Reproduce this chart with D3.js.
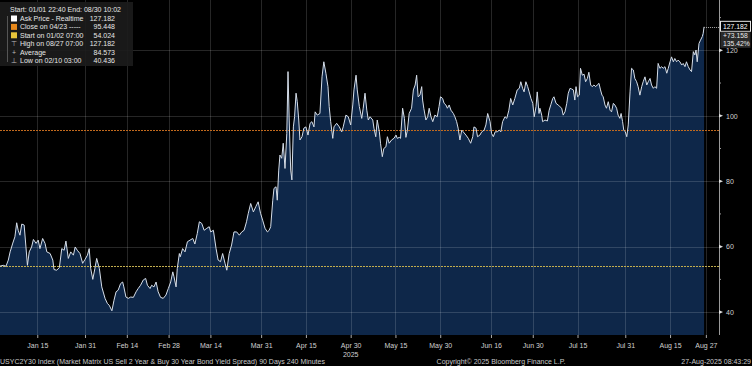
<!DOCTYPE html>
<html>
<head>
<meta charset="utf-8">
<script src="https://cdn.jsdelivr.net/npm/d3@7"></script>
<style>
  html, body { margin: 0; padding: 0; background: #000; }
  svg { display: block; font-family: "Liberation Sans", Arial, sans-serif; }
</style>
</head>
<body>
<svg id="chart" width="752" height="366"></svg>
<script>
// ---------- Data (day offset from Jan 1 2025, spread value) ----------
const days = [
  1.3, 2.6, 3.5, 4.3, 4.9, 5.8, 6.5, 7.1, 7.6, 8.2, 8.8, 9.6, 10.2, 10.7, 11.3, 12.1, 12.7, 13.6, 14.3, 14.9,
  15.8, 16.6, 17.2, 18.3, 19.2, 19.6, 20.5, 21.4, 22.2, 23.0, 23.6, 24.4, 25.2, 26.1, 26.7, 27.4, 28.3, 29.2, 30.0, 30.8,
  31.4, 31.9, 32.6, 33.3, 33.9, 34.8, 35.6, 36.7, 37.5, 38.1, 39.0, 39.7, 40.4, 41.1, 41.9, 42.6, 43.0, 43.7, 44.5, 45.3,
  46.2, 47.1, 47.8, 48.6, 49.5, 50.3, 50.9, 51.8, 52.3, 53.1, 53.8, 54.5, 55.3, 56.2, 57.1, 57.9, 58.7, 59.4, 59.8, 60.5,
  60.9, 61.6, 61.9, 62.7, 63.5, 64.3, 65.2, 66.1, 66.8, 67.6, 68.3, 69.1, 69.9, 70.8, 71.6, 72.1, 73.0, 73.9, 74.6, 75.4,
  76.1, 76.9, 77.5, 78.3, 79.1, 79.9, 80.8, 81.7, 82.5, 83.3, 84.1, 84.7, 85.5, 86.4, 87.2, 88.0, 88.8, 89.5, 90.3, 91.1,
  91.7, 92.2, 92.9, 93.3, 94.0, 94.4, 94.9, 95.3, 95.9, 96.4, 97.0, 97.6, 98.0, 98.4, 98.9, 99.3, 99.8, 100.2, 100.7, 101.1,
  101.6, 102.0, 102.7, 103.3, 104.0, 104.7, 105.4, 106.0, 106.7, 107.1, 107.8, 108.7, 109.4, 110.0, 110.7, 111.4, 111.8, 112.3, 113.0, 113.4,
  114.3, 115.2, 116.0, 116.5, 117.4, 118.2, 119.0, 119.7, 120.1, 120.8, 121.2, 121.9, 122.7, 123.2, 123.8, 124.4, 124.9, 125.5, 126.4, 126.8,
  127.4, 127.9, 128.6, 129.0, 129.6, 130.1, 130.8, 131.3, 131.9, 132.7, 133.5, 134.2, 134.6, 135.3, 135.7, 136.4, 137.0, 137.5, 138.0, 138.6,
  139.4, 140.0, 140.6, 141.1, 141.6, 142.2, 142.8, 143.1, 143.5, 144.2, 144.8, 145.3, 145.9, 146.5, 147.2, 148.0, 148.6, 149.1, 149.8, 150.3,
  150.9, 151.4, 152.0, 152.6, 153.4, 153.9, 154.5, 155.0, 155.6, 156.2, 156.7, 157.6, 158.4, 159.2, 159.9, 160.3, 161.0, 161.5, 162.3, 162.9,
  163.7, 164.3, 164.9, 165.7, 166.2, 166.8, 167.4, 168.1, 168.8, 169.3, 169.9, 170.7, 171.3, 172.0, 172.6, 173.3, 174.0, 174.8, 175.5, 176.0,
  176.6, 177.1, 177.7, 178.3, 178.8, 179.4, 180.0, 180.5, 181.1, 181.5, 182.1, 182.4, 183.0, 183.3, 184.1, 184.9, 185.5, 186.1, 186.7, 187.1,
  187.8, 188.5, 189.1, 189.7, 190.2, 190.8, 191.4, 191.9, 192.5, 193.0, 193.6, 194.1, 194.5, 195.0, 195.6, 196.0, 196.6, 197.2, 197.7, 198.3,
  198.8, 199.4, 199.9, 200.5, 201.1, 201.6, 202.2, 202.7, 203.2, 203.6, 204.2, 204.7, 205.3, 205.9, 206.4, 207.0, 207.5, 208.1, 208.6, 209.2,
  209.6, 210.1, 210.5, 211.0, 211.5, 212.0, 212.6, 213.1, 213.7, 214.2, 214.8, 215.3, 215.9, 216.5, 217.0, 217.6, 218.2, 218.7, 219.3, 219.8,
  220.4, 220.9, 221.5, 222.0, 222.6, 223.2, 223.7, 224.3, 224.9, 225.4, 226.0, 226.5, 227.1, 227.6, 228.2, 228.7, 229.3, 229.9, 230.4, 231.0,
  231.5, 232.1, 232.7, 233.2, 233.8, 234.3, 234.7, 235.1, 235.7, 236.2, 236.8, 237.1, 237.4
];
const spread = [
  54.0, 54.3, 54.0, 55.9, 58.4, 61.1, 63.0, 67.3, 65.0, 63.5, 66.9, 66.6, 59.9, 54.3, 58.4, 59.9, 62.2, 61.0, 62.0, 59.4,
  62.5, 61.0, 58.4, 57.9, 55.9, 53.0, 52.8, 53.6, 59.4, 58.9, 61.7, 56.4, 58.4, 57.4, 59.9, 58.9, 57.9, 54.9, 56.1, 57.4,
  59.4, 53.3, 50.0, 53.3, 56.4, 53.3, 47.7, 44.2, 42.6, 42.1, 40.4, 43.6, 46.2, 46.7, 48.7, 49.2, 47.7, 44.6, 44.2, 44.6,
  44.5, 46.2, 47.2, 48.2, 49.8, 50.3, 48.2, 47.2, 48.2, 47.7, 49.2, 46.2, 44.5, 44.2, 45.2, 47.2, 49.2, 52.3, 50.8, 47.7,
  53.3, 57.9, 56.9, 59.4, 58.4, 61.5, 62.0, 62.5, 60.8, 64.0, 67.6, 67.1, 65.0, 65.6, 66.1, 64.5, 65.0, 59.4, 55.9, 55.4,
  57.9, 54.9, 52.8, 57.9, 60.5, 64.5, 64.5, 63.5, 64.5, 65.0, 67.6, 70.2, 73.2, 70.6, 72.2, 73.7, 70.2, 68.1, 65.6, 64.5,
  65.0, 66.1, 74.2, 77.8, 78.3, 74.2, 83.4, 88.0, 87.0, 91.6, 83.9, 94.6, 113.5, 98.7, 83.4, 80.4, 96.6, 99.7, 106.9, 104.3,
  98.7, 92.6, 93.6, 96.2, 96.6, 94.1, 97.7, 98.2, 96.6, 101.2, 100.2, 100.7, 111.9, 116.5, 113.0, 108.9, 102.8, 98.2, 93.1, 96.6,
  97.7, 96.6, 95.1, 96.6, 100.2, 99.7, 97.2, 103.3, 107.9, 112.4, 107.9, 102.8, 99.2, 102.3, 106.9, 101.7, 98.7, 99.7, 98.7, 96.2,
  93.6, 98.7, 95.1, 91.6, 87.5, 90.0, 90.5, 93.6, 91.6, 92.6, 93.1, 94.1, 93.1, 93.4, 93.1, 102.3, 99.2, 93.4, 95.6, 100.7,
  102.3, 107.9, 109.4, 112.4, 105.8, 106.3, 108.9, 104.8, 102.3, 98.7, 99.7, 102.3, 99.7, 98.2, 100.2, 99.7, 102.8, 105.8, 105.3, 103.8,
  103.3, 102.3, 103.3, 101.7, 100.7, 99.7, 98.2, 96.2, 92.6, 95.6, 95.1, 94.1, 93.1, 91.6, 93.6, 96.6, 96.2, 93.6, 94.1, 95.1,
  95.6, 97.2, 100.7, 98.2, 94.6, 93.6, 95.1, 95.1, 95.6, 95.1, 98.2, 99.7, 99.2, 101.7, 105.3, 103.3, 105.3, 107.9, 108.4, 110.4,
  108.4, 107.3, 110.4, 108.9, 107.3, 105.3, 103.8, 99.7, 102.8, 107.3, 100.7, 102.3, 100.2, 98.2, 98.7, 98.4, 101.7, 103.5, 105.3, 105.8,
  103.8, 103.3, 102.8, 102.3, 100.2, 101.2, 103.8, 106.9, 108.4, 108.2, 107.9, 104.8, 108.9, 105.8, 106.3, 114.5, 112.4, 112.7, 110.4, 111.4,
  113.3, 109.4, 108.9, 109.4, 108.9, 109.4, 109.9, 107.9, 106.3, 105.8, 103.3, 102.3, 104.3, 101.7, 101.2, 103.8, 103.3, 102.3, 100.2, 99.2,
  100.7, 98.2, 95.6, 95.1, 93.6, 97.2, 107.3, 114.5, 114.0, 111.4, 110.4, 108.9, 106.3, 108.9, 110.4, 111.9, 109.4, 110.4, 111.4, 109.4,
  108.4, 108.9, 108.4, 116.0, 114.5, 115.0, 114.5, 115.0, 113.0, 114.5, 116.5, 118.0, 116.5, 117.5, 116.5, 117.0, 116.5, 115.5, 116.0, 115.0,
  116.5, 115.0, 114.0, 113.5, 119.6, 118.6, 120.1, 116.5, 122.1, 123.1, 124.2, 125.2, 127.182
];

const tickDates = ["2025-01-15", "2025-01-31", "2025-02-14", "2025-02-28", "2025-03-14", "2025-03-31",
  "2025-04-15", "2025-04-30", "2025-05-15", "2025-05-30", "2025-06-16", "2025-06-30",
  "2025-07-15", "2025-07-31", "2025-08-15", "2025-08-27"];
const tickLabels = ["Jan 15", "Jan 31", "Feb 14", "Feb 28", "Mar 14", "Mar 31", "Apr 15", "Apr 30",
  "May 15", "May 30", "Jun 16", "Jun 30", "Jul 15", "Jul 31", "Aug 15", "Aug 27"];
const yTicks = [40, 60, 80, 100, 120];
const yMinorTicks = [50, 70, 90, 110, 130];

const closeValue = 95.448;
const startValue = 54.024;
const lastLabel = "127.182";
const changeLabels = ["+73.158", "135.42%"];

const legendTitle = "Start: 01/01 22:40 End: 08/30 10:02";
const legendRows = [
  { sym: "sq", color: "#ffffff", label: "Ask Price - Realtime", value: "127.182" },
  { sym: "sq", color: "#e8891c", label: "Close on 04/23 -----", value: "95.448" },
  { sym: "sq", color: "#e8c53a", label: "Start on 01/02 07:00", value: "54.024" },
  { sym: "\u22A4", color: "#bbbbbb", label: "High on 08/27 07:00", value: "127.182" },
  { sym: "+", color: "#bbbbbb", label: "Average", value: "84.573" },
  { sym: "\u22A5", color: "#bbbbbb", label: "Low on 02/10 03:00", value: "40.436" }
];

const footerLeft = "USYC2Y30 Index (Market Matrix US Sell 2 Year & Buy 30 Year Bond Yield Spread) 90 Days 240 Minutes";
const footerMid = "Copyright\u00A9 2025 Bloomberg Finance L.P.";
const footerRight = "27-Aug-2025 08:43:29";

// ---------- Setup ----------
const dayMs = 864e5;
const base = Date.UTC(2025, 0, 1);
const toDate = d => new Date(base + d * dayMs);
const points = days.map((d, i) => ({ date: toDate(d), value: spread[i] }));

const svg = d3.select("#chart");
const plot = { left: 0, right: 719, top: 0, bottom: 335 };
const font = "Liberation Sans, Arial, sans-serif";

const x = d3.scaleUtc()
  .domain([toDate(1.51), toDate(242.4)])
  .range([plot.left, plot.right]);

const y = d3.scaleLinear()
  .domain([33.0, 135.38])
  .range([plot.bottom, plot.top]);

svg.append("rect").attr("width", 752).attr("height", 366).attr("fill", "#000");

svg.append("defs").append("clipPath").attr("id", "clip")
  .append("rect")
  .attr("x", plot.left).attr("y", plot.top)
  .attr("width", plot.right - plot.left).attr("height", plot.bottom - plot.top);

const g = svg.append("g").attr("clip-path", "url(#clip)");

// ---------- Area ----------
g.append("path")
  .datum(points)
  .attr("fill", "#0e2749")
  .attr("d", d3.area().x(d => x(d.date)).y0(plot.bottom).y1(d => y(d.value)));

// ---------- Gridlines ----------
const tickDateObjs = tickDates.map(s => new Date(s + "T00:00:00Z"));
g.append("g")
  .selectAll("line")
  .data(tickDateObjs)
  .join("line")
  .attr("x1", d => Math.round(x(d)) + 0.5).attr("x2", d => Math.round(x(d)) + 0.5)
  .attr("y1", plot.top).attr("y2", plot.bottom)
  .attr("stroke", "rgba(255,255,255,0.15)")
  .attr("stroke-width", 1);

g.append("g")
  .selectAll("line")
  .data(yTicks)
  .join("line")
  .attr("x1", plot.left).attr("x2", plot.right)
  .attr("y1", d => Math.round(y(d)) + 0.5).attr("y2", d => Math.round(y(d)) + 0.5)
  .attr("stroke", "rgba(255,255,255,0.15)")
  .attr("stroke-width", 1);

// ---------- Close & start reference lines ----------
g.append("line")
  .attr("x1", plot.left).attr("x2", plot.right)
  .attr("y1", y(closeValue)).attr("y2", y(closeValue))
  .attr("stroke", "#c26a1e").attr("stroke-width", 1)
  .attr("stroke-dasharray", "2,1")
  .attr("shape-rendering", "crispEdges");

g.append("line")
  .attr("x1", plot.left).attr("x2", plot.right)
  .attr("y1", y(startValue)).attr("y2", y(startValue))
  .attr("stroke", "#c2ad4e").attr("stroke-width", 1)
  .attr("stroke-dasharray", "2,1")
  .attr("shape-rendering", "crispEdges");

// ---------- Line ----------
g.append("path")
  .datum(points)
  .attr("fill", "none")
  .attr("stroke", "#d6dee9")
  .attr("stroke-width", 1)
  .attr("stroke-linejoin", "round")
  .attr("d", d3.line().x(d => x(d.date)).y(d => y(d.value)));

// last value guide
const last = points[points.length - 1];
svg.append("line")
  .attr("x1", x(last.date)).attr("x2", plot.right)
  .attr("y1", Math.round(y(last.value)) + 0.5).attr("y2", Math.round(y(last.value)) + 0.5)
  .attr("stroke", "#aaaaaa").attr("stroke-width", 1)
  .attr("stroke-dasharray", "1,1");

// ---------- Right axis ----------
svg.append("line")
  .attr("x1", plot.right + 0.5).attr("x2", plot.right + 0.5)
  .attr("y1", plot.top).attr("y2", plot.bottom)
  .attr("stroke", "#9a9a9a");

const yAxis = svg.append("g")
  .attr("transform", `translate(${plot.right},0)`)
  .call(d3.axisRight(y).tickValues(yTicks).tickSize(0).tickPadding(7));
yAxis.select(".domain").remove();
yAxis.selectAll("text")
  .attr("fill", "#d0d0d0")
  .attr("font-size", 7)
  .attr("font-family", font);

svg.append("g")
  .selectAll("path")
  .data(yTicks)
  .join("path")
  .attr("d", d => `M${plot.right},${y(d) - 1.8}L${plot.right + 4},${y(d)}L${plot.right},${y(d) + 1.8}Z`)
  .attr("fill", "#e0e0e0");

svg.append("g")
  .selectAll("line")
  .data(yMinorTicks)
  .join("line")
  .attr("x1", plot.right).attr("x2", plot.right + 2)
  .attr("y1", d => y(d)).attr("y2", d => y(d))
  .attr("stroke", "#999");

// ---------- Bottom axis ----------
const xAxis = svg.append("g")
  .attr("transform", `translate(0,${plot.bottom})`)
  .call(d3.axisBottom(x)
    .tickValues(tickDateObjs)
    .tickFormat((d, i) => tickLabels[i])
    .tickSize(3)
    .tickPadding(5));
xAxis.select(".domain").remove();
xAxis.selectAll("line").attr("stroke", "#aaaaaa");
xAxis.selectAll("text")
  .attr("fill", "#d0d0d0")
  .attr("font-size", 7)
  .attr("font-family", font);

svg.append("text")
  .attr("x", x(tickDateObjs[7]))
  .attr("y", 357)
  .attr("text-anchor", "middle")
  .attr("fill", "#d0d0d0")
  .attr("font-size", 7)
  .text("2025");

// ---------- Value box (top right) ----------
const ly = y(last.value);
svg.append("rect")
  .attr("x", 720.5).attr("y", ly - 5.5)
  .attr("width", 30).attr("height", 10)
  .attr("fill", "#000").attr("stroke", "#e6e6e6").attr("stroke-width", 1);
svg.append("text")
  .attr("x", 723).attr("y", ly + 2)
  .attr("fill", "#ffffff").attr("font-size", 6.8)
  .text(lastLabel);
svg.append("rect")
  .attr("x", 720.5).attr("y", ly + 5)
  .attr("width", 30).attr("height", 16)
  .attr("fill", "#2a2a2a");
svg.selectAll(".chg")
  .data(changeLabels)
  .join("text")
  .attr("class", "chg")
  .attr("x", 723)
  .attr("y", (d, i) => ly + 11.5 + i * 7.5)
  .attr("fill", "#e8e8e8")
  .attr("font-size", 6.8)
  .text(d => d);

// ---------- Legend ----------
const legend = svg.append("g");
legend.append("rect")
  .attr("x", 0).attr("y", 2)
  .attr("width", 133).attr("height", 64)
  .attr("fill", "#1b1b1b").attr("opacity", 0.92);
legend.append("text")
  .attr("x", 10).attr("y", 12)
  .attr("fill", "#e6e6e6").attr("font-size", 7)
  .text(legendTitle);
legend.append("line")
  .attr("x1", 7.5).attr("x2", 7.5).attr("y1", 16).attr("y2", 62)
  .attr("stroke", "#555");

const rows = legend.selectAll(".row")
  .data(legendRows)
  .join("g")
  .attr("class", "row")
  .attr("transform", (d, i) => `translate(0,${21 + i * 8.4})`);

rows.filter(d => d.sym === "sq")
  .append("rect")
  .attr("x", 11).attr("y", -5.5)
  .attr("width", 6).attr("height", 6)
  .attr("fill", d => d.color);

rows.filter(d => d.sym !== "sq")
  .append("text")
  .attr("x", 14).attr("text-anchor", "middle")
  .attr("fill", d => d.color).attr("font-size", 7)
  .text(d => d.sym);

rows.append("text")
  .attr("x", 20)
  .attr("fill", "#e6e6e6").attr("font-size", 7)
  .text(d => d.label);

rows.append("text")
  .attr("x", 115).attr("text-anchor", "end")
  .attr("fill", "#e6e6e6").attr("font-size", 7)
  .text(d => d.value);

// ---------- Footer ----------
svg.append("text")
  .attr("x", 0).attr("y", 364)
  .attr("fill", "#c8c8c8").attr("font-size", 7)
  .text(footerLeft);
svg.append("text")
  .attr("x", 501).attr("y", 364)
  .attr("text-anchor", "middle")
  .attr("fill", "#c8c8c8").attr("font-size", 7)
  .text(footerMid);
svg.append("text")
  .attr("x", 751).attr("y", 364)
  .attr("text-anchor", "end")
  .attr("fill", "#c8c8c8").attr("font-size", 7)
  .text(footerRight);
</script>
</body>
</html>
